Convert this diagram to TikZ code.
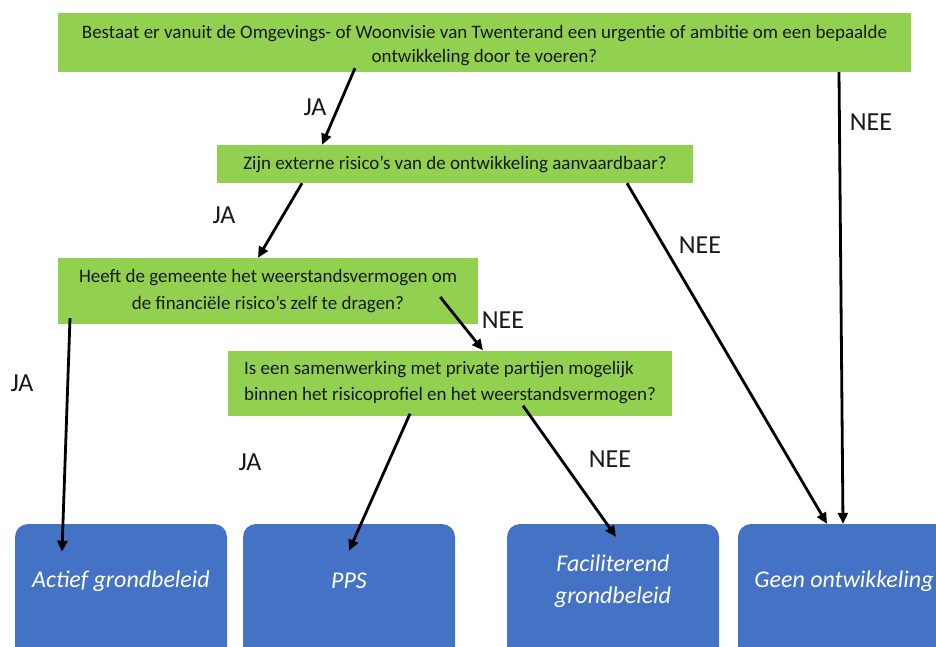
\documentclass[tikz,border=0pt]{standalone}
\usepackage{fontspec}
\setmainfont{Carlito}
\usetikzlibrary{arrows.meta}
\definecolor{qgreen}{HTML}{92D050}
\definecolor{qblue}{HTML}{4472C4}
\tikzset{
  qbox/.style={draw=none, fill=qgreen, rectangle, inner sep=0pt, text=black!90, font=\fontsize{19}{27}\selectfont},
  obox/.style={draw=none, fill=qblue, rounded corners=13pt, minimum width=212pt, minimum height=150pt, inner sep=0pt},
  otext/.style={text=white, font=\fontsize{24}{32}\selectfont\itshape, align=center},
  qtext/.style={text=black!90, font=\fontsize{19}{24}\selectfont, align=center, inner sep=0pt},
  arr/.style={-{Triangle[length=11pt,width=10pt]}, line width=2.8pt, black},
  lab/.style={font=\fontsize{26}{30}\selectfont, text=black!90}
}
\begin{document}
\begin{tikzpicture}[x=1pt,y=-1pt]
\useasboundingbox (0,0) rectangle (936,646);
\clip (0,0) rectangle (936,646);
\node[qbox, minimum width=853pt, minimum height=59pt] (q1) at (484.5,42.5) {};
\node[qtext] (q1t) at (484.5,46)
  {Bestaat er vanuit de Omgevings- of Woonvisie van Twenterand een urgentie of ambitie om een bepaalde\\ontwikkeling door te voeren?};
\node[qbox, minimum width=476pt, minimum height=38pt] (q2) at (455,164)
  {Zijn externe risico’s van de ontwikkeling aanvaardbaar?};
\node[qbox, minimum width=420pt, minimum height=66pt, align=center] (q3) at (268,291)
  {Heeft de gemeente het weerstandsvermogen om\\de financiële risico’s zelf te dragen?};
\node[qbox, minimum width=444pt, minimum height=65pt, align=left, font=\fontsize{19}{26}\selectfont] (q4) at (450,383)
  {Is een samenwerking met private partijen mogelijk\\binnen het risicoprofiel en het weerstandsvermogen?};
\node[obox] (b1) at (121,599) {};
\node[obox] (b2) at (349,599) {};
\node[obox] (b3) at (613,599) {};
\node[obox] (b4) at (844,599) {};
\node[otext] (t1) at (121,581) {Actief grondbeleid};
\node[otext] (t2) at (349,581) {PPS};
\node[otext] (t3) at (613,581) {Faciliterend\\grondbeleid};
\node[otext] (t4) at (844,581) {Geen ontwikkeling};
\draw[arr] ([xshift=-129.5pt,yshift=4pt]q1.south) -- ([xshift=-133pt]q2.north);
\draw[arr] ([xshift=354.5pt]q1.south) -- ([xshift=-1pt]b4.north);
\draw[arr] ([xshift=-153pt]q2.south) -- ([xshift=-10pt]q3.north);
\draw[arr] ([xshift=172pt]q2.south) -- ([xshift=-17pt]b4.north);
\draw[arr] ([xshift=-198pt,yshift=6pt]q3.south) -- ([xshift=-59pt,yshift=-28pt]b1.north);
\draw[arr] ([xshift=-38pt,yshift=-6pt]q3.east) -- ([xshift=33pt]q4.north);
\draw[arr] ([xshift=-40pt,yshift=2pt]q4.south) -- ([yshift=-27pt]b2.north);
\draw[arr] ([xshift=73pt,yshift=10pt]q4.south) -- ([xshift=3pt,yshift=-13pt]b3.north);
\node[lab] (l1) at (315,107) {JA};
\node[lab] (l2) at (871,122) {NEE};
\node[lab] (l3) at (224,215) {JA};
\node[lab] (l4) at (700,245) {NEE};
\node[lab] (l5) at (22,383) {JA};
\node[lab] (l6) at (503,320) {NEE};
\node[lab] (l7) at (250,462) {JA};
\node[lab] (l8) at (610,459) {NEE};
\end{tikzpicture}
\end{document}
